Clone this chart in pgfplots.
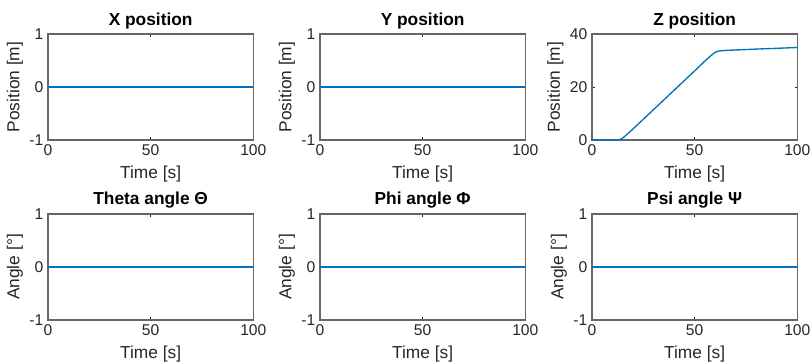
\documentclass[border=0pt]{standalone}
\usepackage{pgfplots}
\pgfplotsset{compat=1.18}
\usepackage{fontspec}
\setmainfont{Liberation Sans}
\definecolor{mblue}{rgb}{0,0.447,0.741}
\definecolor{mgray}{rgb}{0.15,0.15,0.15}
\pgfplotsset{
  mstyle/.style={
    scale only axis, width=154pt, height=79.5pt,
    anchor=north west, clip=false,
    xmin=0, xmax=100, xtick={0,50,100},
    axis line style={black!60, line width=1.1pt},
    tick style={mgray, line width=0.6pt},
    tick align=inside, major tick length=2pt,
    ticklabel style={font=\fontsize{11.7}{12}\selectfont, text=mgray},
    label style={font=\fontsize{13}{14}\selectfont, text=mgray},
    title style={font=\bfseries\fontsize{13}{14}\selectfont, yshift=-5.5pt},
    xlabel={Time [s]},
    xlabel style={yshift=-1pt},
    ylabel style={yshift=-2pt},
    /pgf/number format/assume math mode=true,
  },
  flat/.style={mstyle, ymin=-1, ymax=1, ytick={-1,0,1}},
  mline/.style={draw=mblue, line width=1pt, mark=none},
}
\begin{document}
\begin{tikzpicture}
\useasboundingbox (0,0) rectangle (608.25pt,-273pt);
\begin{axis}[flat, at={(36pt,-25.5pt)}, title={X position}, ylabel={Position [m]}]
\addplot[mline] coordinates {(0,0) (100,0)};
\end{axis}
\begin{axis}[flat, at={(240pt,-25.5pt)}, title={Y position}, ylabel={Position [m]}]
\addplot[mline] coordinates {(0,0) (100,0)};
\end{axis}
\begin{axis}[mstyle, at={(444pt,-25.5pt)}, title={Z position}, ylabel={Position [m]}, ymin=0, ymax=40, ytick={0,20,40}]
\addplot[mline, smooth, tension=0.3] coordinates {(0,0) (12,0) (13,0.05) (14,0.3) (15,0.8) (16,1.4) (18,2.8) (20,4.2) (30,11.5) (40,18.8) (50,26.1) (55,29.8) (57,31.2) (59,32.5) (60,33.1) (61,33.4) (62,33.6) (65,33.8) (80,34.3) (100,34.9)};
\end{axis}
\begin{axis}[flat, at={(36pt,-160.5pt)}, title={Theta angle Θ}, ylabel={Angle [°]}]
\addplot[mline] coordinates {(0,0) (100,0)};
\end{axis}
\begin{axis}[flat, at={(240pt,-160.5pt)}, title={Phi angle Φ}, ylabel={Angle [°]}]
\addplot[mline] coordinates {(0,0) (100,0)};
\end{axis}
\begin{axis}[flat, at={(444pt,-160.5pt)}, title={Psi angle Ψ}, ylabel={Angle [°]}]
\addplot[mline] coordinates {(0,0) (100,0)};
\end{axis}
\end{tikzpicture}
\end{document}
